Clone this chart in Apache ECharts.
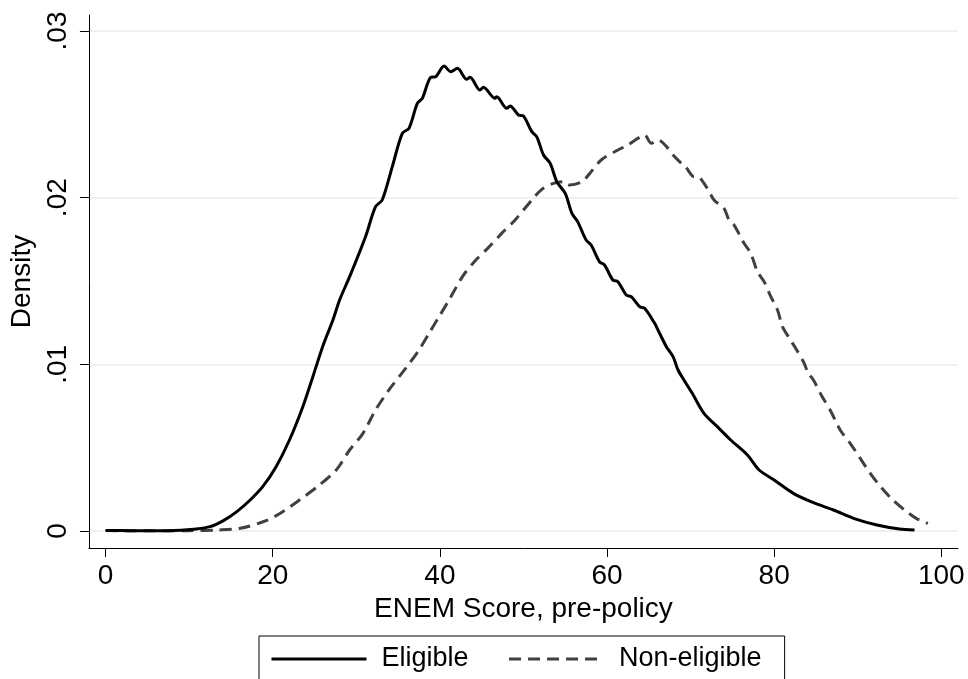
<!DOCTYPE html>
<html>
<head>
<meta charset="utf-8">
<script src="https://cdn.jsdelivr.net/npm/echarts@6/dist/echarts.min.js"></script>
<style>
  html, body { margin: 0; padding: 0; background: #fff; }
  #chart { width: 968px; height: 679px; }
</style>
</head>
<body>
<div id="chart"></div>
<script>
// Kernel density of the pre-policy ENEM score, by eligibility group
const eligibleScore = [0, 3, 6, 9, 10.5, 12.5, 14.1, 15.7, 17.3, 18.8, 20.4, 22.0, 23.6, 24.8, 26.0, 27.2, 28.0, 29.2, 31.1, 32.3, 33.1, 34.3, 35.5, 36.3, 37.3, 37.9, 38.9, 39.5, 40.5, 41.3, 42.1, 43.2, 43.6, 44.8, 45.2, 46.6, 46.8, 48.0, 48.4, 49.4, 50.0, 51.0, 51.6, 52.4, 53.2, 54.0, 55.0, 55.8, 56.5, 57.5, 58.1, 59.1, 59.7, 60.7, 61.3, 62.3, 62.9, 63.9, 64.5, 65.7, 66.1, 67.1, 67.9, 68.5, 69.2, 70.2, 71.6, 73.2, 74.8, 76.8, 78.2, 80.0, 82.3, 84.7, 87.1, 89.5, 92.3, 95.0, 96.8];
const eligibleDensity = [0.00003, 0.00002, 0.00001, 0.00004, 0.0001, 0.00026, 0.00062, 0.00116, 0.00186, 0.00266, 0.00386, 0.00546, 0.00746, 0.00926, 0.0111, 0.01266, 0.01386, 0.01526, 0.01766, 0.01946, 0.01986, 0.02185, 0.02386, 0.02416, 0.02566, 0.02596, 0.02722, 0.02726, 0.0279, 0.02756, 0.02776, 0.0271, 0.02722, 0.02646, 0.02662, 0.02596, 0.02605, 0.02536, 0.0255, 0.02496, 0.0249, 0.02396, 0.02365, 0.02256, 0.02206, 0.02095, 0.02026, 0.01906, 0.01855, 0.01746, 0.01716, 0.01615, 0.01596, 0.01506, 0.01496, 0.01416, 0.01406, 0.01346, 0.01336, 0.01246, 0.01206, 0.01106, 0.01046, 0.00966, 0.00906, 0.00826, 0.00706, 0.00626, 0.00546, 0.00456, 0.00366, 0.00306, 0.00226, 0.0017, 0.00126, 0.00076, 0.00036, 0.00012, 0.00006];

const nonEligibleScore = [0, 5, 10, 13.3, 16.1, 19.2, 21.2, 23.2, 25.6, 27.6, 29.2, 30.8, 32.3, 33.9, 35.9, 37.5, 38.7, 39.9, 41.1, 42.7, 44.2, 45.8, 47.4, 49.0, 51.0, 52.2, 53.6, 54.8, 55.5, 57.0, 58.1, 59.3, 61.3, 62.5, 63.7, 64.5, 65.3, 66.1, 67.3, 67.9, 68.9, 69.4, 70.4, 70.8, 72.0, 72.8, 74.0, 74.6, 75.2, 76.4, 77.2, 78.0, 78.8, 79.6, 80.4, 81.0, 81.7, 82.7, 83.5, 84.1, 84.7, 85.7, 86.7, 87.9, 89.1, 90.3, 91.5, 92.9, 94.2, 95.6, 97.0, 98.4];
const nonEligibleDensity = [0.00003, 0.00001, 0.00002, 0.00006, 0.00016, 0.00062, 0.00116, 0.00186, 0.00276, 0.00366, 0.00486, 0.00586, 0.00726, 0.00846, 0.00976, 0.01086, 0.01186, 0.01286, 0.01386, 0.01526, 0.0162, 0.017, 0.01786, 0.01866, 0.01986, 0.0205, 0.02086, 0.02096, 0.02076, 0.02096, 0.02156, 0.02226, 0.02286, 0.02316, 0.02356, 0.02376, 0.02326, 0.02346, 0.02296, 0.02256, 0.02206, 0.02186, 0.02126, 0.02126, 0.02056, 0.01986, 0.01936, 0.01866, 0.01836, 0.01726, 0.01666, 0.01556, 0.01496, 0.01406, 0.01326, 0.01226, 0.01166, 0.01086, 0.01016, 0.00946, 0.00906, 0.0081, 0.00726, 0.00606, 0.00526, 0.00436, 0.00346, 0.00256, 0.00186, 0.00126, 0.00076, 0.00046];

const xTickValues = [0, 20, 40, 60, 80, 100];
const xTickLabels = ['0', '20', '40', '60', '80', '100'];
const yTickValues = [0, 0.01, 0.02, 0.03];
const yTickLabels = ['0', '.01', '.02', '.03'];

const seriesNames = ['Eligible', 'Non-eligible'];

const FONT = '"Liberation Sans", Arial, Helvetica, sans-serif';

function pairs(xs, ys) {
  return xs.map((x, i) => [x, ys[i]]);
}

const chart = echarts.init(document.getElementById('chart'), null, { renderer: 'canvas' });

chart.setOption({
  backgroundColor: '#ffffff',
  animation: false,
  textStyle: { fontFamily: FONT },
  grid: { left: 85, right: 10, top: 15, bottom: 131, containLabel: false },
  xAxis: {
    type: 'value',
    min: -2,
    max: 102,
    name: 'ENEM Score, pre-policy',
    nameLocation: 'middle',
    nameGap: 45,
    nameTextStyle: { fontSize: 28, color: '#000', fontFamily: FONT },
    axisLine: { show: true, onZero: false, lineStyle: { color: '#000', width: 1 } },
    axisTick: { show: true, length: 9, customValues: xTickValues, lineStyle: { color: '#000', width: 1 } },
    axisLabel: {
      customValues: xTickValues,
      fontSize: 28,
      color: '#000',
      margin: 14,
      fontFamily: FONT,
      formatter: v => xTickLabels[xTickValues.indexOf(v)]
    },
    splitLine: { show: false }
  },
  yAxis: {
    type: 'value',
    min: -0.00102,
    max: 0.03096,
    name: 'Density',
    nameLocation: 'middle',
    nameGap: 48,
    nameTextStyle: { fontSize: 28, color: '#000', fontFamily: FONT },
    axisLine: { show: true, onZero: false, lineStyle: { color: '#000', width: 1 } },
    axisTick: { show: true, length: 9, customValues: yTickValues, lineStyle: { color: '#000', width: 1 } },
    axisLabel: {
      customValues: yTickValues,
      rotate: 90,
      fontSize: 28,
      color: '#000',
      margin: 17,
      fontFamily: FONT,
      formatter: v => yTickLabels[yTickValues.indexOf(v)]
    },
    splitLine: { show: true, lineStyle: { color: '#e4edf0', width: 1.5 } }
  },
  legend: {
    show: true,
    left: 259,
    top: 636,
    orient: 'horizontal',
    data: seriesNames,
    padding: [8, 23, 20, 11],
    itemWidth: 95,
    itemHeight: 30,
    itemGap: 39,
    borderColor: '#000',
    borderWidth: 1,
    borderRadius: 0,
    // keep only the line sample in each key, no point marker
    itemStyle: { opacity: 0 },
    lineStyle: { width: 3 },
    textStyle: { fontSize: 27, color: '#000', lineHeight: 30, padding: [0, 0, 0, 10], fontFamily: FONT }
  },
  series: [
    {
      name: seriesNames[0],
      type: 'line',
      data: pairs(eligibleScore, eligibleDensity),
      symbol: 'none',
      smooth: 0.3,
      lineStyle: { color: '#000000', width: 3, type: 'solid' },
      itemStyle: { color: '#000000' },
      z: 3
    },
    {
      name: seriesNames[1],
      type: 'line',
      data: pairs(nonEligibleScore, nonEligibleDensity),
      symbol: 'none',
      smooth: 0.3,
      lineStyle: { color: '#404040', width: 3, type: [12, 7] },
      itemStyle: { color: '#404040' },
      z: 2
    }
  ]
});
</script>
</body>
</html>
